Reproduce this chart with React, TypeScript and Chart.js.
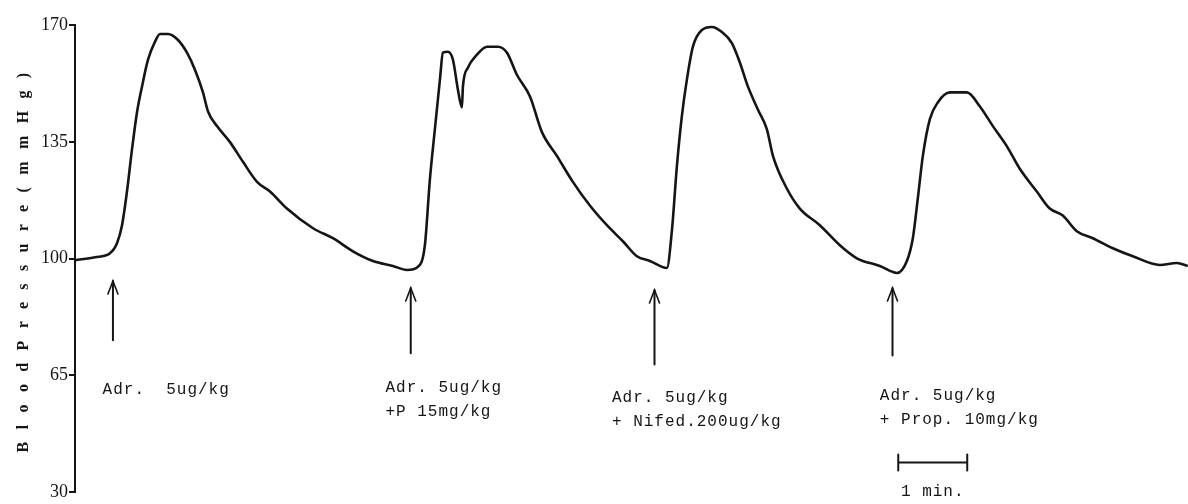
import React, { useEffect, useRef } from "react";
import { Chart, registerables } from "chart.js";

Chart.register(...registerables);

// time in seconds from the start of the trace
const TIME_S = [
  0, 17.4, 30.4, 36.5, 40.9, 45.2, 49.6, 53.9, 58.3, 63.5, 69.6, 73.9, 80.9, 89.6, 97.4,
  104.3, 111.3, 115.7, 123.5, 134.8, 146.1, 158.3, 169.6, 184.3, 207.0, 224.3, 241.7,
  259.1, 276.5, 288.7, 300.0, 304.3, 308.7, 313.0, 317.4, 320.0, 324.3, 328.7, 333.0,
  336.5, 337.4, 341.7, 349.6, 358.3, 367.8, 375.7, 384.3, 395.7, 406.1, 419.1, 433.0,
  447.8, 462.6, 476.5, 488.7, 500.0, 514.8, 519.1, 523.5, 527.8, 532.2, 537.4, 545.2,
  553.9, 562.6, 571.3, 578.3, 585.2, 593.9, 601.7, 607.0, 619.1, 630.4, 647.8, 665.2,
  680.0, 700.0, 714.8, 723.5, 728.7, 733.0, 737.4, 743.5, 750.4, 760.9, 775.7, 787.0,
  798.3, 810.4, 821.7, 836.5, 847.8, 859.1, 871.3, 885.2, 902.6, 920.0, 943.5, 958.3, 967.8,
];

// blood pressure, mmHg
const PRESSURE = [
  99.5, 100.4, 101.6, 104.6, 110.0, 120.1, 132.8, 143.8, 151.6, 159.6, 165.0, 167.3, 167.3,
  165.5, 161.7, 156.6, 149.8, 144.1, 139.7, 134.9, 129.0, 123.0, 120.1, 115.0, 109.1, 106.1,
  102.2, 99.3, 97.8, 96.6, 98.1, 104.0, 123.9, 138.8, 153.7, 161.7, 162.0, 159.6, 150.7,
  145.3, 151.6, 157.2, 161.1, 163.5, 163.5, 161.7, 155.1, 148.6, 137.9, 130.8, 123.0,
  115.9, 110.0, 105.2, 100.7, 99.3, 97.2, 108.2, 127.8, 142.7, 153.7, 163.5, 168.5,
  169.4, 167.9, 164.6, 158.7, 151.6, 144.7, 138.8, 130.8, 121.0, 115.0, 110.0, 104.0,
  100.1, 97.8, 95.7, 99.3, 106.1, 118.0, 130.8, 141.8, 146.8, 149.8, 149.8, 145.6,
  139.7, 133.7, 126.9, 120.1, 115.0, 112.9, 108.2, 106.1, 103.1, 100.7, 98.1, 98.7, 97.8,
];

const Y_MIN = 30;
const Y_MAX = 170;
const Y_STEP = 35;
const X_MAX = 968;

const Y_TITLE = "BloodPressure(mmHg)";

// injection arrows
const ARROW_TIMES = [33, 292, 504, 711];
const ARROW_TIP = [93.3, 91.2, 90.6, 91.2];
const ARROW_BASE = [75.5, 71.6, 68.3, 71.0];

// annotation texts (anchor: left edge, baseline of first line)
const LABEL_TIMES = [24, 270, 467, 700];
const LABEL_VALUES = [59.4, 60.0, 57.0, 57.6];
const LABEL_LINES = [
  ["Adr.  5ug/kg"],
  ["Adr. 5ug/kg", "+P 15mg/kg"],
  ["Adr. 5ug/kg", "+ Nifed.200ug/kg"],
  ["Adr. 5ug/kg", "+ Prop. 10mg/kg"],
];

// 1-minute scale bar
const SCALE_BAR_TIMES = [716, 776];
const SCALE_BAR_VALUE = 38.9;
const SCALE_LABEL = "1 min.";
const SCALE_LABEL_VALUE = 28.8;

const INK = "#151515";

const annotationPlugin = {
  id: "traceAnnotations",
  afterDraw(chart: any) {
    const ctx = chart.ctx as CanvasRenderingContext2D;
    const xs = chart.scales.x;
    const ys = chart.scales.y;
    ctx.save();
    ctx.strokeStyle = INK;
    ctx.fillStyle = INK;
    ctx.lineCap = "round";

    // arrows
    ARROW_TIMES.forEach((t, i) => {
      const x = xs.getPixelForValue(t);
      const yTip = ys.getPixelForValue(ARROW_TIP[i]);
      const yBase = ys.getPixelForValue(ARROW_BASE[i]);
      ctx.lineWidth = 2;
      ctx.beginPath();
      ctx.moveTo(x, yBase);
      ctx.lineTo(x, yTip);
      ctx.stroke();
      ctx.lineWidth = 1.6;
      ctx.beginPath();
      ctx.moveTo(x - 5, yTip + 13);
      ctx.lineTo(x, yTip);
      ctx.lineTo(x + 5, yTip + 13);
      ctx.stroke();
    });

    // labels
    ctx.font = '16px "Liberation Mono", monospace';
    (ctx as any).letterSpacing = "1px";
    ctx.textAlign = "left";
    ctx.textBaseline = "alphabetic";
    LABEL_TIMES.forEach((t, i) => {
      const x = xs.getPixelForValue(t);
      const y = ys.getPixelForValue(LABEL_VALUES[i]);
      LABEL_LINES[i].forEach((line, j) => {
        ctx.fillText(line, x, y + j * 24);
      });
    });

    // scale bar
    const bx0 = xs.getPixelForValue(SCALE_BAR_TIMES[0]);
    const bx1 = xs.getPixelForValue(SCALE_BAR_TIMES[1]);
    const by = ys.getPixelForValue(SCALE_BAR_VALUE);
    ctx.lineWidth = 2;
    ctx.beginPath();
    ctx.moveTo(bx0, by);
    ctx.lineTo(bx1, by);
    ctx.moveTo(bx0, by - 8);
    ctx.lineTo(bx0, by + 8);
    ctx.moveTo(bx1, by - 8);
    ctx.lineTo(bx1, by + 8);
    ctx.stroke();
    ctx.textAlign = "center";
    ctx.fillText(SCALE_LABEL, (bx0 + bx1) / 2, ys.getPixelForValue(SCALE_LABEL_VALUE));

    // y axis title, letter spaced, rotated
    (ctx as any).letterSpacing = "0px";
    ctx.font = 'bold 16px "Liberation Serif", serif';
    const plain = ctx.measureText(Y_TITLE).width;
    const target = 392;
    const spacing = Math.max(0, (target - plain) / Y_TITLE.length);
    (ctx as any).letterSpacing = spacing.toFixed(2) + "px";
    ctx.translate(24, (chart.chartArea.top + chart.chartArea.bottom) / 2 + 4);
    ctx.rotate(-Math.PI / 2);
    ctx.textAlign = "center";
    ctx.textBaseline = "middle";
    ctx.fillText(Y_TITLE, spacing / 2, 0);
    ctx.restore();
  },
};

export default function App() {
  const ref = useRef<HTMLCanvasElement | null>(null);

  useEffect(() => {
    if (!ref.current) return;
    const data = TIME_S.map((t, i) => ({ x: t, y: PRESSURE[i] }));
    const chart = new Chart(ref.current, {
      type: "line",
      data: {
        datasets: [
          {
            data,
            borderColor: INK,
            borderWidth: 2.6,
            pointRadius: 0,
            fill: false,
            cubicInterpolationMode: "monotone",
          },
        ],
      },
      options: {
        animation: false,
        responsive: false,
        maintainAspectRatio: false,
        layout: { padding: { top: 25, bottom: 8, left: 0, right: 0 } },
        plugins: {
          legend: { display: false },
          tooltip: { enabled: false },
          title: { display: false },
        },
        scales: {
          x: {
            type: "linear",
            min: 0,
            max: X_MAX,
            display: false,
          },
          y: {
            min: Y_MIN,
            max: Y_MAX,
            afterFit: (scale: any) => {
              scale.width = 75;
            },
            ticks: {
              stepSize: Y_STEP,
              color: INK,
              padding: 1,
              font: { family: '"Liberation Serif", serif', size: 18 },
            },
            grid: {
              drawOnChartArea: false,
              drawTicks: true,
              tickLength: 6,
              color: INK,
              lineWidth: 2,
            },
            border: { display: true, color: INK, width: 2 },
          },
        },
      },
      plugins: [annotationPlugin],
    });
    return () => chart.destroy();
  }, []);

  return (
    <div style={{ position: "absolute", left: 0, top: 0, width: 1188, height: 504, background: "#fff" }}>
      <canvas ref={ref} width={1188} height={504} style={{ width: 1188, height: 504, display: "block" }} />
    </div>
  );
}
